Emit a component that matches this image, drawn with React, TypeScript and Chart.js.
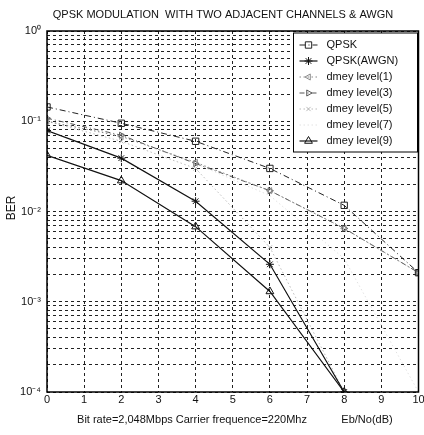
import React, { useEffect, useRef } from 'react';
import { Chart, registerables } from 'chart.js';
import { drawPoint } from 'chart.js/helpers';

Chart.register(...registerables);

const ebno = [0, 2, 4, 6, 8, 10];
const qpsk = [0.144, 0.095, 0.06, 0.03, 0.0117, 0.0021];
const qpskAwgn = [0.079, 0.039, 0.013, 0.0026, 0.0001, null];
const dmey1 = [0.1, 0.068, 0.035, 0.017, 0.0065, 0.0021];
const dmey3 = [0.108, 0.07, 0.034, 0.017, 0.0065, 0.0021];
const dmey5 = [0.1, 0.06, 0.03, 0.004, 0.0001, null];
const dmey7 = [0.1, 0.068, 0.034, 0.015, 0.003, 0.0001];
const dmey9 = [0.042, 0.022, 0.0068, 0.0013, 0.0001, null];

const seriesNames = ['QPSK', 'QPSK(AWGN)', 'dmey level(1)', 'dmey level(3)', 'dmey level(5)', 'dmey level(7)', 'dmey level(9)'];
const xTickValues = [0, 1, 2, 3, 4, 5, 6, 7, 8, 9, 10];
const yExponents = [-4, -3, -2, -1, 0];
const supers: Record<string, string> = { '-': '⁻', '0': '⁰', '1': '¹', '2': '²', '3': '³', '4': '⁴' };

const titleText = 'QPSK MODULATION  WITH TWO ADJACENT CHANNELS & AWGN';
const xTitleLeft = 'Bit rate=2,048Mbps Carrier frequence=220Mhz';
const xTitleRight = 'Eb/No(dB)';
const yTitle = 'BER';

const FONT = '"Liberation Sans", Arial, sans-serif';

const pts = (arr: (number | null)[]) => ebno.map((x, i) => ({ x, y: arr[i] }));

const decorations = {
  id: 'decorations',
  afterDraw(chart: any) {
    const { ctx, chartArea: a } = chart;
    const xs = chart.scales.x;
    ctx.save();
    // frame
    ctx.strokeStyle = '#000';
    ctx.lineWidth = 1.5;
    ctx.setLineDash([]);
    ctx.strokeRect(a.left, a.top, a.right - a.left, a.bottom - a.top);
    // title
    ctx.fillStyle = '#111';
    ctx.font = `11px ${FONT}`;
    ctx.textAlign = 'center';
    ctx.textBaseline = 'middle';
    ctx.fillText(titleText, 223, 15);
    // x tick labels
    xTickValues.forEach((v) => {
      ctx.fillText(String(v), xs.getPixelForValue(v), a.bottom + 8);
    });
    // x titles
    ctx.fillText(xTitleLeft, 192, 420);
    ctx.fillText(xTitleRight, 367, 420);
    // y title
    ctx.save();
    ctx.translate(12, 208);
    ctx.rotate(-Math.PI / 2);
    ctx.font = `12px ${FONT}`;
    ctx.fillText(yTitle, 0, 0);
    ctx.restore();
    // legend box
    const bx = a.right - 125, by = a.top + 2, bw = 124, bh = 119;
    ctx.fillStyle = '#fff';
    ctx.fillRect(bx, by, bw, bh);
    ctx.strokeStyle = '#000';
    ctx.lineWidth = 1;
    ctx.strokeRect(bx, by, bw, bh);
    chart.data.datasets.forEach((ds: any, i: number) => {
      const y = by + 12 + i * 16;
      ctx.save();
      ctx.strokeStyle = ds.borderColor;
      ctx.lineWidth = ds.borderWidth;
      ctx.setLineDash(ds.borderDash || []);
      ctx.beginPath();
      ctx.moveTo(bx + 6, y);
      ctx.lineTo(bx + 24, y);
      ctx.stroke();
      ctx.setLineDash([]);
      if (ds.pointRadius > 0) {
        ctx.strokeStyle = ds.pointBorderColor || ds.borderColor;
        ctx.fillStyle = ds.pointBackgroundColor || 'rgba(0,0,0,0)';
        ctx.lineWidth = ds.pointBorderWidth || 1;
        drawPoint(ctx, { pointStyle: ds.pointStyle, rotation: ds.pointRotation || 0, radius: ds.pointRadius, borderWidth: ds.pointBorderWidth || 1 }, bx + 15, y);
      }
      ctx.restore();
      ctx.fillStyle = '#111';
      ctx.font = `11px ${FONT}`;
      ctx.textAlign = 'left';
      ctx.textBaseline = 'middle';
      ctx.fillText(ds.label, bx + 33, y);
    });
    ctx.restore();
  },
};

export default function App() {
  const ref = useRef<HTMLCanvasElement>(null);
  useEffect(() => {
    const canvas = ref.current!;
    const mk = (label: string, data: any, color: string, dash: number[], style: any, radius: number, rot = 0, bw = 1) => ({
      label,
      data: pts(data),
      borderColor: color,
      borderWidth: bw,
      borderDash: dash,
      pointStyle: style,
      pointRadius: radius,
      pointRotation: rot,
      pointBorderColor: color,
      pointBackgroundColor: 'rgba(0,0,0,0)',
      pointBorderWidth: 1,
      spanGaps: false,
      tension: 0,
      fill: false,
    });
    const chart = new Chart(canvas, {
      type: 'line',
      data: {
        datasets: [
          mk(seriesNames[0], qpsk, '#222', [6, 3, 1, 3], 'rect', 4.5),
          mk(seriesNames[1], qpskAwgn, '#111', [], 'star', 4, 0, 1.2),
          mk(seriesNames[2], dmey1, '#888', [1.5, 2.5], 'triangle', 3.5, -90),
          mk(seriesNames[3], dmey3, '#555', [5, 3, 1, 3], 'triangle', 3.5, 90),
          mk(seriesNames[4], dmey5, '#bbb', [1.5, 2.5], 'crossRot', 3),
          mk(seriesNames[5], dmey7, '#e2e2e2', [1.5, 2.5], 'circle', 0),
          mk(seriesNames[6], dmey9, '#111', [], 'triangle', 4.5, 0, 1.2),
        ] as any,
      },
      options: {
        animation: false,
        responsive: false,
        devicePixelRatio: 1,
        layout: { padding: { left: 0, top: 31, right: 5, bottom: 0 } },
        plugins: { legend: { display: false }, title: { display: false }, tooltip: { enabled: false } },
        scales: {
          x: {
            type: 'linear',
            min: 0,
            max: 10,
            afterBuildTicks: (s: any) => { s.ticks = xTickValues.map((v) => ({ value: v })); },
            afterFit: (s: any) => { s.height = 43; },
            grid: { color: '#222', lineWidth: 1, drawTicks: false },
            border: { display: false, dash: [3, 3] },
            ticks: { display: false },
          },
          y: {
            type: 'logarithmic',
            min: 1e-4,
            max: 1,
            afterBuildTicks: (s: any) => {
              const t: any[] = [];
              yExponents.forEach((e) => {
                if (e === 0) { t.push({ value: 1 }); return; }
                for (let m = 1; m <= 9; m++) t.push({ value: parseFloat((m * Math.pow(10, e)).toPrecision(3)) });
              });
              s.ticks = t;
            },
            afterFit: (s: any) => { s.width = 47; },
            grid: { color: '#222', lineWidth: 1, drawTicks: false },
            border: { display: false, dash: [3, 3] },
            ticks: {
              color: '#111',
              padding: 6,
              autoSkip: false,
              font: { size: 11, family: FONT },
              callback: (v: any) => {
                const e = Math.round(Math.log10(v));
                if (Math.abs(v - Math.pow(10, e)) > 1e-12) return '';
                return '10' + String(e).split('').map((c) => supers[c]).join('');
              },
            },
          },
        },
      },
      plugins: [decorations],
    } as any);
    return () => chart.destroy();
  }, []);
  return (
    <div style={{ position: 'absolute', left: 0, top: 0, width: 424, height: 435, background: '#fff' }}>
      <canvas ref={ref} width={424} height={435} style={{ width: 424, height: 435, display: 'block' }} />
    </div>
  );
}
